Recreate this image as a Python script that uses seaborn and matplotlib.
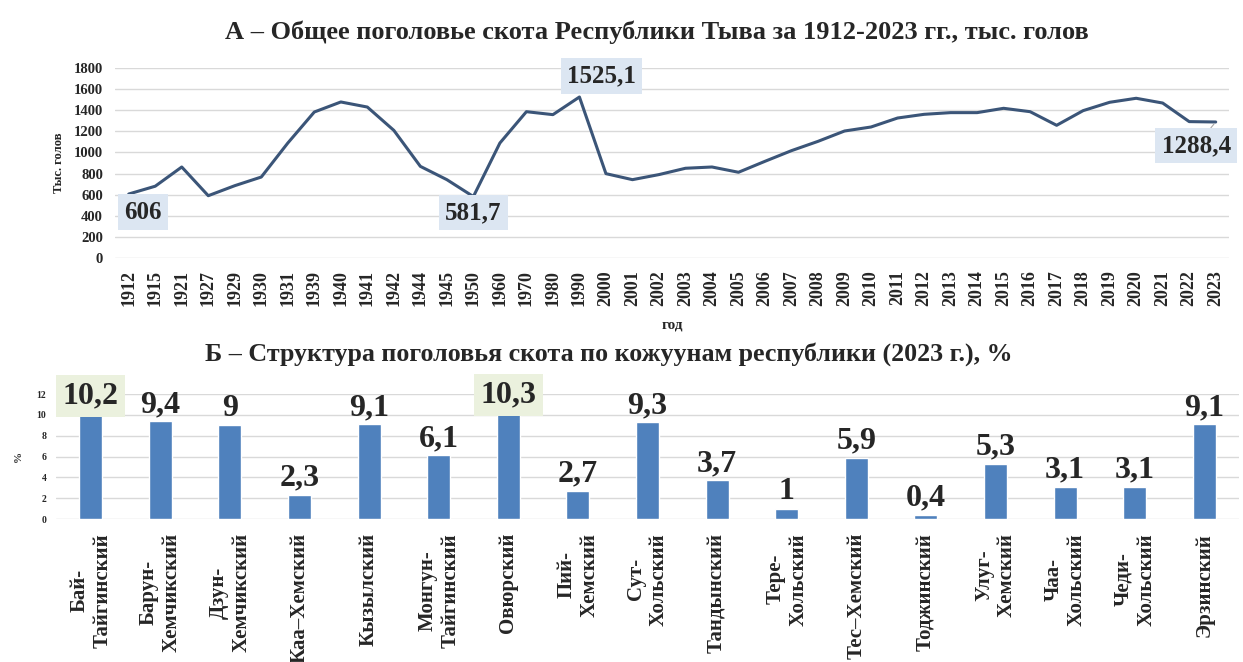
import numpy as np
import pandas as pd
import seaborn as sns
import matplotlib.pyplot as plt

# Data: total livestock, thousand heads
years = ['1912', '1915', '1921', '1927', '1929', '1930', '1931', '1939', '1940', '1941',
         '1942', '1944', '1945', '1950', '1960', '1970', '1980', '1990', '2000', '2001',
         '2002', '2003', '2004', '2005', '2006', '2007', '2008', '2009', '2010', '2011',
         '2012', '2013', '2014', '2015', '2016', '2017', '2018', '2019', '2020', '2021',
         '2022', '2023']
heads = [606, 680, 862, 590, 685, 767, 1089, 1383, 1478, 1430,
         1209, 868, 742, 581.7, 1089, 1386, 1358, 1525.1, 799, 742,
         790, 850, 862, 812, 916, 1017, 1105, 1203, 1241, 1326,
         1361, 1377, 1377, 1418, 1386, 1257, 1396, 1475, 1513, 1468,
         1292, 1288.4]

# Data: share of livestock by kozhuun, 2023, %
districts = ['Бай-\nТайгинский', 'Барун-\nХемчикский', 'Дзун-\nХемчикский', 'Каа–Хемский',
             'Кызылский', 'Монгун-\nТайгинский', 'Овюрский', 'Пий-\nХемский',
             'Сут-\nХольский', 'Тандынский', 'Тере-\nХольский', 'Тес–Хемский',
             'Тоджинский', 'Улуг-\nХемский', 'Чаа-\nХольский', 'Чеди-\nХольский', 'Эрзинский']
shares = [10.2, 9.4, 9, 2.3, 9.1, 6.1, 10.3, 2.7, 9.3, 3.7, 1, 5.9, 0.4, 5.3, 3.1, 3.1, 9.1]

sns.set_style('white')
plt.rcParams['font.family'] = ['Liberation Serif', 'DejaVu Serif']
plt.rcParams['font.weight'] = 'bold'

fig = plt.figure(figsize=(12.43, 6.62), dpi=100)

def fmt(v):
    return ('%g' % v).replace('.', ',')

# ---------- Chart A ----------
ax1 = fig.add_axes([0.0929, 0.6103, 0.8958, 0.2870])
df_a = pd.DataFrame({'year': years, 'heads': heads})
sns.lineplot(data=df_a, x='year', y='heads', sort=False, color='#3B5578', linewidth=2.2, ax=ax1)
ax1.set_xlim(-0.5, len(years) - 0.5)
ax1.set_ylim(0, 1800)
ax1.set_yticks(np.arange(0, 1801, 200))
ax1.grid(axis='y', color='#D9D9D9', linewidth=1)
ax1.set_axisbelow(True)
for s in ax1.spines.values():
    s.set_visible(False)
ax1.tick_params(axis='x', labelrotation=90, labelsize=13, pad=9, length=0)
ax1.tick_params(axis='y', labelsize=10.5, pad=9, length=0)
ax1.set_xlabel('год', fontsize=11, fontweight='bold', labelpad=9)
ax1.set_ylabel('Тыс. голов', fontsize=9, fontweight='bold', labelpad=6)
ax1.set_title('А – Общее поголовье скота Республики Тыва за 1912-2023 гг., тыс. голов',
              fontsize=19, fontweight='bold', pad=21, x=0.486)

box_a = dict(boxstyle='square,pad=0.25', fc='#DCE6F2', ec='none')
notes_a = {0: (10, -13), 13: (0, -11.5), 17: (16, 15), 41: (-14, -17)}
for i, (dx, dy) in notes_a.items():
    arrow = None
    if i == len(years) - 1:
        arrow = dict(arrowstyle='-', color='#A6A6A6', lw=0.8, shrinkA=0, shrinkB=2)
    ax1.annotate(fmt(heads[i]), xy=(i, heads[i]), xytext=(dx, dy), textcoords='offset points',
                 ha='center', va='center', fontsize=18, fontweight='bold', bbox=box_a,
                 arrowprops=arrow, zorder=5)

# ---------- Chart B ----------
ax2 = fig.add_axes([0.045, 0.216, 0.9518, 0.1888])
df_b = pd.DataFrame({'district': districts, 'share': shares})
sns.barplot(data=df_b, x='district', y='share', color='#4F81BD', saturation=1,
            width=0.33, ax=ax2)
ax2.set_xlim(-0.5, len(districts) - 0.5)
ax2.set_ylim(0, 12)
ax2.set_yticks(np.arange(0, 13, 2))
ax2.grid(axis='y', color='#D9D9D9', linewidth=1)
ax2.set_axisbelow(True)
for s in ax2.spines.values():
    s.set_visible(False)
ax2.tick_params(axis='x', labelsize=15, pad=10, length=0)
ax2.tick_params(axis='y', labelsize=7, pad=7, length=0)
for lab in ax2.get_xticklabels():
    lab.set_rotation(90)
    lab.set_multialignment('center')
    lab.set_fontweight('bold')
ax2.set_xlabel('')
ax2.set_ylabel('%', fontsize=8, fontweight='bold', labelpad=10)
ax2.set_title('Б – Структура поголовья скота по кожуунам республики (2023 г.), %',
              fontsize=18.7, fontweight='bold', pad=24, x=0.467)

top_two = sorted(shares)[-2:]
for i, v in enumerate(shares):
    bbox = None
    if v in top_two:
        bbox = dict(boxstyle='square,pad=0.2', fc='#EBF1DE', ec='none')
    ax2.annotate(fmt(v), xy=(i, v), xytext=(0, 12), textcoords='offset points',
                 ha='center', va='center', fontsize=23, fontweight='bold', bbox=bbox, zorder=5)

fig.savefig('out.png', dpi=100)
